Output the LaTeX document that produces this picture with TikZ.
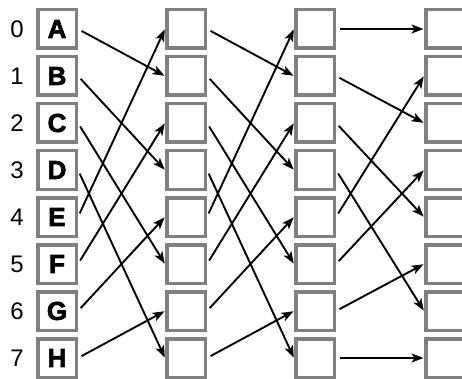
\documentclass[tikz,border=0pt]{standalone}
\usepackage{fontspec}
\setmainfont{Liberation Sans}
\newfontfamily\heavyfont[FakeBold=2.5]{Liberation Sans Bold}
\usetikzlibrary{arrows.meta}
\begin{document}
\begin{tikzpicture}[x=1pt,y=-1pt,
  cell/.style={draw=black!50, line width=3.5pt, fill=white, minimum size=38.5pt, inner sep=0pt},
  lettertext/.style={font=\fontsize{26}{26}\heavyfont},
  idx/.style={font=\fontsize{24}{24}\selectfont, inner sep=0pt},
  link/.style={line width=1.9pt, shorten <=4pt, shorten >=0.5pt,
    -{Stealth[length=12pt,width=9pt,inset=3pt]}}]
\useasboundingbox (0,0) rectangle (462,379);
\foreach \c/\x in {1/57,2/186,3/315,4/445}{
  \foreach \r in {0,...,7}{
    \node[cell] (c\c-\r) at (\x,{29+47*\r}) {};
  }
}
\foreach \r/\l in {0/A,1/B,2/C,3/D,4/E,5/F,6/G,7/H}{
  \node[lettertext] (L\r) at (c1-\r.center) {\l};
  \node[idx] (n\r) at (17,{29+47*\r}) {\r};
}
\foreach \a/\b in {0/1,1/3,2/5,3/7,4/0,5/2,6/4,7/6}{
  \draw[link] (c1-\a.east) -- (c2-\b.west);
  \draw[link] (c2-\a.east) -- (c3-\b.west);
}
\foreach \a/\b in {0/0,1/2,2/4,3/6,4/1,5/3,6/5,7/7}{
  \draw[link] (c3-\a.east) -- (c4-\b.west);
}
\end{tikzpicture}
\end{document}
